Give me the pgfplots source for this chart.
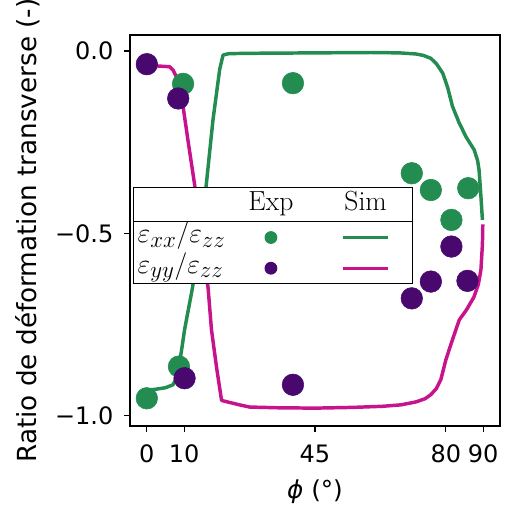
\documentclass[border=0pt]{standalone}
\usepackage{pgfplots}
\pgfplotsset{compat=1.18}
\usepackage{fontspec}
\usepackage{array}
\newfontfamily\dejavu{DejaVu Sans}[ItalicFont={DejaVu Sans Oblique}]
\definecolor{cgreen}{RGB}{35,140,80}
\definecolor{cpurple}{RGB}{72,8,110}
\definecolor{cmag}{RGB}{200,20,140}
\DeclareMathSizes{20.74}{20.74}{16}{12}

\begin{document}
\begin{tikzpicture}
\path[use as bounding box] (-97.5pt,-58.5pt) rectangle (281.25pt,319.5pt);
\begin{axis}[
  at={(0,0)}, anchor=south west,
  scale only axis, width=277.5pt, height=293.25pt,
  xmin=-4.5, xmax=94.5, ymin=-1.028, ymax=0.044,
  xtick={0,10,45,80,90}, xticklabels={0,10,45,80,90},
  ytick={-1,-0.5,0}, yticklabels={−1.0,−0.5,0.0},
  tick align=outside, major tick length=4.5pt, tick pos=left,
  axis line style={line width=0.9pt},
  every tick/.style={black, line width=0.9pt},
  ticklabel style={font=\dejavu\fontsize{18}{21}\selectfont},
  xticklabel style={yshift=-6pt},
  yticklabel style={xshift=-4.5pt},
  every axis x label/.style={at={(rel axis cs:0.5,0)}, yshift=-49.5pt, anchor=center, font=\dejavu\fontsize{18.5}{21}\selectfont},
  every axis y label/.style={at={(rel axis cs:0,0.5)}, xshift=-76.5pt, rotate=90, anchor=center, font=\dejavu\fontsize{19.7}{22}\selectfont},
  xlabel={{\itshape ϕ} (°)},
  ylabel={Ratio de déformation transverse (-)},
  clip=true,
]
% Exp eps_xx/eps_zz
\addplot[only marks, cgreen, mark=*, mark size=8.1pt, mark options={fill=cgreen, draw=none}] coordinates {
 (0,-0.952) (8.6,-0.865) (9.7,-0.09) (39.1,-0.088) (70.9,-0.335) (76,-0.381) (81.5,-0.463) (86,-0.376)
};
% Exp eps_yy/eps_zz
\addplot[only marks, cpurple, mark=*, mark size=8.1pt, mark options={fill=cpurple, draw=none}] coordinates {
 (0,-0.036) (8.4,-0.13) (10.1,-0.897) (39.1,-0.915) (70.9,-0.678) (76,-0.632) (81.5,-0.536) (85.8,-0.630)
};
% Sim eps_xx/eps_zz
\addplot[no marks, cgreen, line width=2.6pt, line join=round] coordinates {
 (0,-0.93) (2.5,-0.927) (5,-0.923) (7,-0.915) (8,-0.895) (8.6,-0.865) (9.3,-0.82) (10.1,-0.764)
 (12.2,-0.65) (14,-0.52) (15.9,-0.367) (17.7,-0.189) (19.5,-0.05) (20.4,-0.011) (22,-0.007)
 (30,-0.006) (45,-0.005) (60,-0.004) (67.6,-0.005) (72,-0.008) (74,-0.012) (76,-0.02)
 (77.5,-0.035) (79.2,-0.061) (80.5,-0.1) (81.8,-0.152) (83.5,-0.195) (85.4,-0.235) (87.6,-0.271)
 (88.5,-0.3) (88.9,-0.326) (89.4,-0.399) (89.8,-0.463)
};
% Sim eps_yy/eps_zz
\addplot[no marks, cmag, line width=2.6pt, line join=round] coordinates {
 (0,-0.04) (3,-0.041) (6.1,-0.043) (7,-0.052) (7.9,-0.07) (8.8,-0.11) (9.7,-0.152) (11,-0.244)
 (12.8,-0.367) (14.6,-0.51) (16.4,-0.65) (17.3,-0.764) (18.7,-0.87) (20,-0.958) (24.8,-0.97)
 (27.5,-0.976) (35,-0.978) (45,-0.979) (55,-0.977) (63,-0.974) (68,-0.97) (72,-0.962)
 (74.5,-0.953) (76,-0.942) (77.5,-0.925) (78.7,-0.90) (80,-0.847) (81.5,-0.80) (82.7,-0.764)
 (83.6,-0.737) (85.5,-0.71) (87.5,-0.675) (88.7,-0.64) (89.4,-0.6) (89.8,-0.53) (89.9,-0.475)
};
\end{axis}
\node[draw=black, line width=0.9pt, fill=white, inner sep=0pt, anchor=north west] at (2.25pt,179.25pt) {%
  \fontsize{20.74}{24}\selectfont\renewcommand\arraystretch{0.1}\setlength\arrayrulewidth{0.9pt}%
  \begin{tabular}{@{\hspace{3pt}}p{64pt}@{}>{\centering\arraybackslash}p{72pt}@{}>{\centering\arraybackslash}p{70pt}@{}}
   \rule[-8pt]{0pt}{25pt} & Exp & Sim \\ \hline
   \rule[-7.5pt]{0pt}{22.5pt}$\varepsilon_{xx}/\varepsilon_{zz}$ &
     \tikz[baseline={(0,-4pt)}]\fill[cgreen] (0,0) circle (4.8pt); &
     \tikz[baseline={(0,-4pt)}]\draw[cgreen, line width=2.4pt] (0,0)--(34pt,0); \\
   \rule[-7.5pt]{0pt}{22.5pt}$\varepsilon_{yy}/\varepsilon_{zz}$ &
     \tikz[baseline={(0,-4pt)}]\fill[cpurple] (0,0) circle (4.8pt); &
     \tikz[baseline={(0,-4pt)}]\draw[cmag, line width=2.4pt] (0,0)--(34pt,0); \\
  \end{tabular}};
\end{tikzpicture}
\end{document}
